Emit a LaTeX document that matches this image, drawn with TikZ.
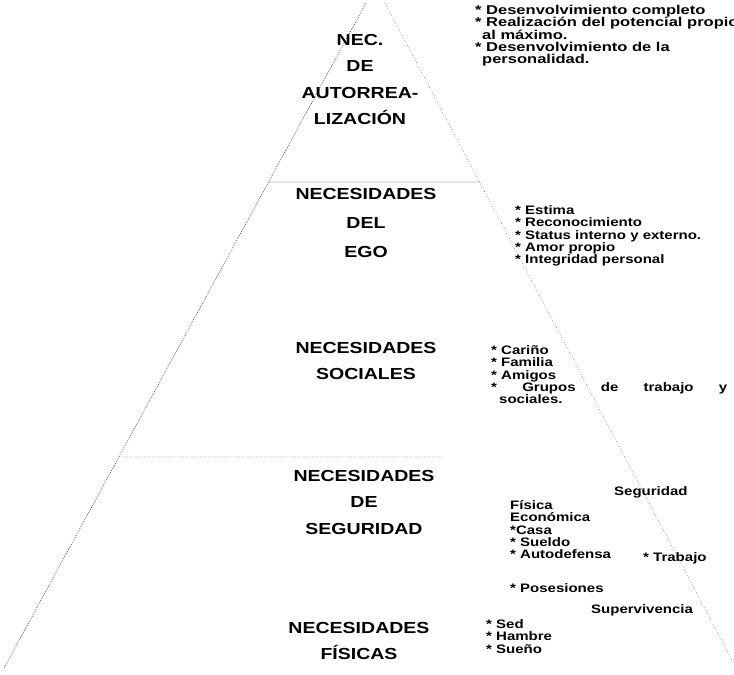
\documentclass[tikz,border=0pt]{standalone}
\usepackage{fontspec}
\setmainfont{Liberation Sans}
\newfontfamily\labfont[FakeStretch=1.22]{Liberation Sans}
\newfontfamily\txtfont[FakeStretch=1.22]{Liberation Sans}
\newfontfamily\topfont[FakeStretch=1.29]{Liberation Sans}
\begin{document}
\begin{tikzpicture}[x=1pt,y=-1pt,
  edge/.style={line width=0.7pt,black!80,dash pattern=on 0.7pt off 1.3pt},
  faint/.style={line width=0.6pt,black!60,dash pattern=on 0.6pt off 2.2pt},
  lab/.style={font=\labfont\bfseries\fontsize{16}{26.5}\selectfont,align=center,inner sep=0pt,anchor=north},
  txt/.style={font=\txtfont\bfseries\fontsize{12.3}{12.2}\selectfont,align=left,inner sep=0pt,anchor=north west},
  toptxt/.style={txt,font=\topfont\bfseries\fontsize{12.8}{12.3}\selectfont},
  word/.style={font=\txtfont\bfseries\fontsize{12.3}{12.2}\selectfont,inner sep=0pt,anchor=west}]
\useasboundingbox (0,0) rectangle (734,675);
% pyramid outline
\coordinate (LT) at (366,3);
\coordinate (LB) at (4,668);
\coordinate (RT) at (385,3);
\coordinate (RB) at (733,662);
\draw[edge] (LT) -- (LB);
\draw[faint] (RT) -- (RB);
\path (LT) -- (LB) coordinate[pos=0.2692] (H1L) coordinate[pos=0.6827] (H2L);
\path (RT) -- (RB) coordinate[pos=0.2716] (H1R);
\coordinate (H2R) at (443,457);
\draw[edge] (H1L) -- (H1R);
\draw[faint] (H2L) -- (H2R);
% level labels
\node[lab] (l1) at (360,34) {NEC.\\DE\\AUTORREA-\\LIZACIÓN};
\node[lab,font=\labfont\bfseries\fontsize{16}{29}\selectfont] (l2) at (366,188) {NECESIDADES\\DEL\\EGO};
\node[lab] (l3) at (366,342) {NECESIDADES\\SOCIALES};
\node[lab] (l4) at (364,470) {NECESIDADES\\DE\\SEGURIDAD};
\node[lab] (l5) at (359,622) {NECESIDADES\\FÍSICAS};
% descriptions
\node[toptxt] (t1) at (475,5) {* Desenvolvimiento completo\\* Realización del potencial propio\\\hspace*{7pt}al máximo.\\* Desenvolvimiento de la\\\hspace*{7pt}personalidad.};
\node[txt] (t2) at (515,205.5) {* Estima\\* Reconocimiento\\* Status interno y externo.\\* Amor propio\\* Integridad personal};
\node[txt] (t3) at (491,345.5) {* Cariño\\* Familia\\* Amigos\\\hbox to 236pt{*\hfill Grupos\hfill de\hfill trabajo\hfill y}\\\hspace*{8pt}sociales.};
\node[word] (seg) at (614,492) {Seguridad};
\node[txt] (t4) at (510,500.5) {Física\\Económica\\*Casa\\* Sueldo\\* Autodefensa};
\node[word] (trab) at (643,558) {* Trabajo};
\node[word] (pos) at (510,588) {* Posesiones};
\node[word] (sup) at (591,610) {Supervivencia};
\node[txt] (t5) at (486,619.5) {* Sed\\* Hambre\\* Sueño};
\end{tikzpicture}
\end{document}
